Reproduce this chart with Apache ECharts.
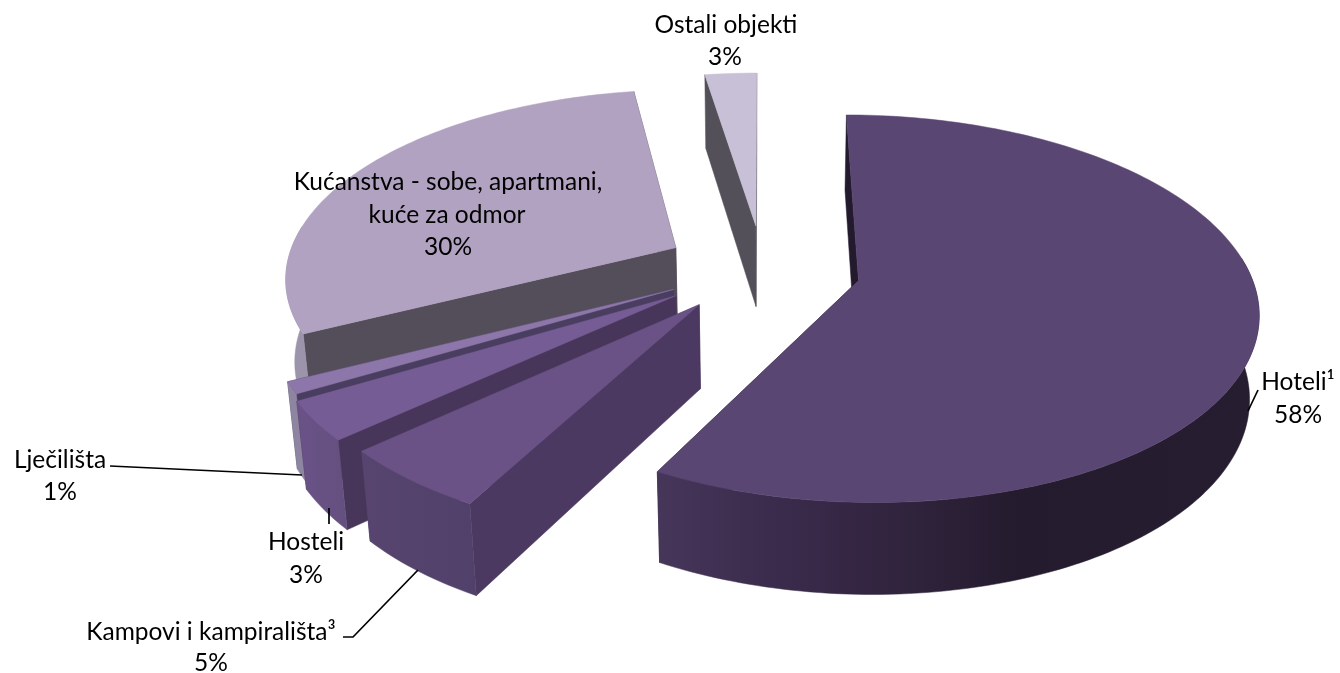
<!DOCTYPE html>
<html>
<head>
<meta charset="utf-8">
<style>
    html, body {margin: 0; padding: 0; background: #fff;}
    #box {width: 1340px; height: 673px;}
</style>
<script src="https://cdn.jsdelivr.net/npm/echarts@6/dist/echarts.min.js"></script>
</head>
<body>
<div id="box"></div>
<script>
// data; labels show them rounded
var categories = ['Hoteli¹', 'Kampovi i kampirališta³', 'Hosteli', 'Lječilišta', 'Kućanstva - sobe, apartmani,\nkuće za odmor', 'Ostali objekti'];
var shares = [57.9, 5.4, 3.3, 1.0, 29.9, 2.5];

// colours per slice
var topColors = ['#5a4672', '#6a5287', '#765c95', '#8c76aa', '#b0a2c0', '#c8c0d6'];
var wallColors = ['#241a2e', '#4b3962', '#473659', '#4a3e60', '#544d5a', '#54505a'];
var rimColors = [
    [[0, '#46365a'], [0.2, '#3a2b4c'], [0.42, '#30233c'], [0.6, '#241b2e'], [1, '#261d31']],
    [[0, '#57456f'], [1, '#50406a']],
    [[0, '#6a5287'], [1, '#64507f']],
    [[0, '#8e86a0'], [1, '#8e86a0']],
    [[0, '#9c94aa'], [1, '#9c94aa']],
    [[0, '#9c94aa'], [1, '#9c94aa']]
];
// how far each slice is pulled out and the small turn of that direction
var explodes = [0.25, 0.245, 0.26, 0.25, 0.255, 0.24];
var explodeTurns = [0, 0.04, 0.06, 0.05, 0, 0];

// label placement, one x/y per text line
var labelPos = [
    {x: [1298, 1298], y: [382, 415]},
    {x: [211, 211], y: [632, 663]},
    {x: [306, 306], y: [542, 575]},
    {x: [60, 60], y: [460, 492]},
    {x: [448, 447, 448], y: [182, 215, 247]},
    {x: [726, 725], y: [25, 57]}
];
// leader lines
var leaders = [
    [[1258, 390], [1248, 411]],
    [[343, 637], [353, 637], [418, 570]],
    [[329, 508], [329, 524]],
    [[110, 466], [302, 475]],
    null,
    null
];

// camera of the 3d pie
var view = {cx: 763, cy: 269, dist: 6.1, focal: 2383, sin: 0.477, cos: 0.879, depth: 0.245};

function project(u, v, h) {
    var w = view.dist - v * view.cos - h * view.sin;
    return [
        view.cx + view.focal * u / w,
        view.cy + view.focal * (v * view.sin - h * view.cos) / w
    ];
}

var total = shares.reduce(function (a, b) { return a + b; }, 0);
var startAngles = [];
var acc = 0;
shares.forEach(function (item) {
    startAngles.push(acc / total * Math.PI * 2);
    acc += item;
});

function sliceAngles(i) {
    return [startAngles[i], startAngles[i] + shares[i] / total * Math.PI * 2];
}

// apex of an exploded slice, plane coordinates
function apexOf(i) {
    var a = sliceAngles(i), mid = (a[0] + a[1]) / 2 + explodeTurns[i];
    return [explodes[i] * Math.sin(mid), -explodes[i] * Math.cos(mid)];
}

function rimPoint(i, ang, h) {
    var p = apexOf(i);
    return project(p[0] + Math.sin(ang), p[1] - Math.cos(ang), h);
}

function arc(i, a0, a1, h) {
    var pts = [], n = Math.max(2, Math.ceil((a1 - a0) / 0.02));
    for (var k = 0; k <= n; k++) {
        pts.push(rimPoint(i, a0 + (a1 - a0) * k / n, h));
    }
    return pts;
}

function poly(points, fill, z2) {
    return {type: 'polygon', shape: {points: points}, style: {fill: fill, stroke: fill, lineWidth: 0.5}, z2: z2, silent: true};
}

function renderSlice(params, api) {
    var i = params.dataIndex;
    var a = sliceAngles(i), p = apexOf(i);
    var low = -view.depth;
    var rank = Math.round((-Math.cos((a[0] + a[1]) / 2) + 1) * 100) * 10;
    var children = [];
    var apexTop = project(p[0], p[1], 0), apexLow = project(p[0], p[1], low);

    // radial walls
    [a[0], a[1]].forEach(function (ang) {
        children.push(poly([apexTop, rimPoint(i, ang, 0), rimPoint(i, ang, low), apexLow], wallColors[i], rank));
    });
    // outer wall, front part only
    var f0 = Math.max(a[0], 1.45), f1 = Math.min(a[1], 4.83);
    if (f1 > f0) {
        var upper = arc(i, f0, f1, 0), lower = arc(i, f0, f1, low).reverse();
        var stops = rimColors[i].map(function (s) { return {offset: s[0], color: s[1]}; });
        children.push(poly(upper.concat(lower), new echarts.graphic.LinearGradient(0, 0, 1, 0, stops), rank + 1));
    }
    // top face
    children.push(poly([apexTop].concat(arc(i, a[0], a[1], 0)), topColors[i], rank + 2));

    // leader
    if (leaders[i]) {
        children.push({type: 'polyline', shape: {points: leaders[i]}, style: {stroke: '#000', lineWidth: 1.7, fill: null}, z2: 5000, silent: true});
    }
    // label text
    var lines = categories[i].split('\n').concat([Math.round(api.value(0)) + '%']);
    lines.forEach(function (line, k) {
        children.push({
            type: 'text', z2: 5001, silent: true,
            style: {
                text: line,
                x: labelPos[i].x[k],
                y: labelPos[i].y[k],
                align: 'center',
                verticalAlign: 'middle',
                fill: '#000',
                font: '24.5px Lato, sans-serif'
            }
        });
    });
    return {type: 'group', children: children};
}

var box_chart = echarts.init(document.getElementById('box'), null, {renderer: 'canvas'});
box_chart.setOption({
    animation: false,
    backgroundColor: '#fff',
    series: [{
        type: 'custom',
        coordinateSystem: 'none',
        renderItem: renderSlice,
        clip: false,
        data: shares.map(function (item, idx) { return {name: categories[idx], value: [item]}; })
    }]
});
</script>
</body>
</html>
